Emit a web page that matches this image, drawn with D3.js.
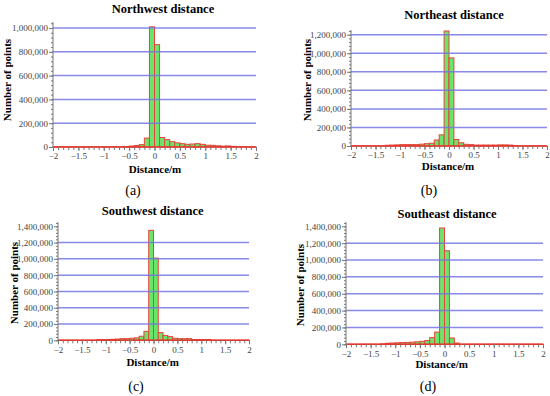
<!DOCTYPE html>
<html>
<head>
<meta charset="utf-8">
<script src="https://cdn.jsdelivr.net/npm/d3@7"></script>
<style>
  body { margin: 0; background: #fff; }
  svg { display: block; }
</style>
</head>
<body>
<div id="chart"></div>
<script>
// Histogram bins: 40 bins of 0.1 m from -2 to 2 (left edges)
var binStarts = d3.range(40).map(function(i) { return Math.round((-2 + i * 0.1) * 10) / 10; });
var binWidth = 0.1;
var xTicks = [-2, -1.5, -1, -0.5, 0, 0.5, 1, 1.5, 2];

// Counts per bin
var northwest = [1000, 1000, 1000, 1000, 1000, 1000, 1000, 1000, 1000, 1000,
  1000, 1000, 1000, 1000, 4000, 8000, 12000, 20000, 75000, 1010000,
  860000, 80000, 62000, 45000, 35000, 28000, 22000, 25000, 28000, 22000,
  15000, 14000, 10000, 7000, 9000, 5000, 2000, 1000, 1000, 1000];
var northeast = [1000, 1000, 1000, 1000, 1000, 1000, 1000, 8000, 10000, 12000,
  15000, 15000, 15000, 15000, 20000, 25000, 30000, 65000, 120000, 1240000,
  950000, 70000, 35000, 18000, 15000, 10000, 10000, 10000, 10000, 10000,
  12000, 12000, 10000, 5000, 2000, 1000, 1000, 1000, 1000, 1000];
var southwest = [1000, 1000, 1000, 1000, 1000, 1000, 1000, 1000, 8000, 8000,
  10000, 12000, 15000, 20000, 20000, 25000, 30000, 50000, 110000, 1350000,
  1010000, 95000, 60000, 45000, 25000, 20000, 20000, 20000, 10000, 10000,
  10000, 10000, 1000, 1000, 1000, 1000, 1000, 1000, 1000, 1000];
var southeast = [1000, 1000, 1000, 1000, 1000, 1000, 1000, 5000, 12000, 15000,
  18000, 20000, 22000, 25000, 30000, 35000, 45000, 80000, 145000, 1380000,
  1110000, 75000, 15000, 1000, 1000, 1000, 1000, 1000, 1000, 1000,
  1000, 1000, 1000, 1000, 1000, 1000, 1000, 1000, 1000, 1000];

var yTicksA = [0, 200000, 400000, 600000, 800000, 1000000];
var yTicksB = [0, 200000, 400000, 600000, 800000, 1000000, 1200000];
var yTicksC = [0, 200000, 400000, 600000, 800000, 1000000, 1200000, 1400000];

var titles = ["Northwest distance", "Northeast distance", "Southwest distance", "Southeast distance"];
var letters = ["(a)", "(b)", "(c)", "(d)"];

var serif = "'Liberation Serif', 'Times New Roman', 'DejaVu Serif', serif";

// Panel layout (pixel frames)
var panels = [
  { data: northwest, ticks: yTicksA, x0: 53, x1: 256, yZero: 147, yTop: 28,
    title: [163, 13], ylab: [11, 80], xlab: [155, 173], letter: [133, 195] },
  { data: northeast, ticks: yTicksB, x0: 351, x1: 547, yZero: 146, yTop: 34.7,
    title: [454, 19], ylab: [311, 80], xlab: [448, 170], letter: [429, 195] },
  { data: southwest, ticks: yTicksC, x0: 58, x1: 249, yZero: 340.3, yTop: 226.3,
    title: [152.7, 215], ylab: [18, 283], xlab: [152.7, 366], letter: [136, 391] },
  { data: southeast, ticks: yTicksC, x0: 346, x1: 543, yZero: 344.3, yTop: 226.3,
    title: [447, 218], ylab: [304, 285], xlab: [441.7, 367.5], letter: [428, 391] }
];

var svg = d3.select("#chart").append("svg")
  .attr("width", 550)
  .attr("height", 396)
  .attr("font-family", serif);

var fmt = d3.format(",");

panels.forEach(function(p, i) {
  var g = svg.append("g");
  var yMax = p.ticks[p.ticks.length - 1];
  var yStep = p.ticks[1] - p.ticks[0];

  var xScale = d3.scaleLinear().domain([-2, 2]).range([p.x0, p.x1]);
  var yScale = d3.scaleLinear().domain([0, yMax]).range([p.yZero, p.yTop]);

  // Bars
  g.append("g").selectAll("rect")
    .data(p.data)
    .enter().append("rect")
    .attr("x", function(d, j) { return xScale(binStarts[j]); })
    .attr("width", function(d, j) { return xScale(binStarts[j] + binWidth) - xScale(binStarts[j]); })
    .attr("y", function(d) { return yScale(d); })
    .attr("height", function(d) { return yScale(0) - yScale(d); })
    .attr("fill", "#6be46b")
    .attr("stroke", "#e8433a")
    .attr("stroke-width", 1);

  // Grid lines (drawn above the bars, as in the picture)
  g.append("g").selectAll("line")
    .data(p.ticks.filter(function(t) { return t > 0 && t < 1400000; }))
    .enter().append("line")
    .attr("x1", p.x0)
    .attr("x2", p.x1)
    .attr("y1", function(d) { return yScale(d); })
    .attr("y2", function(d) { return yScale(d); })
    .attr("stroke", "#7474e4")
    .attr("stroke-opacity", 0.85)
    .attr("stroke-width", 1.5);

  // Baseline
  g.append("line")
    .attr("x1", p.x0).attr("x2", p.x1)
    .attr("y1", p.yZero).attr("y2", p.yZero)
    .attr("stroke", "#e8332a").attr("stroke-width", 1.5);

  // Y axis with minor ticks
  var yAxisTop = yMax + yStep / 4;
  var yAxis = d3.axisLeft(yScale).tickValues(p.ticks).tickFormat(fmt).tickSize(4).tickSizeOuter(0);
  var yMinor = d3.axisLeft(yScale)
    .tickValues(d3.range(0, yAxisTop, yStep / 5))
    .tickFormat("").tickSize(2).tickSizeOuter(0);
  var ya = g.append("g").attr("transform", "translate(" + p.x0 + ",0)");
  ya.call(yAxis);
  var ym = g.append("g").attr("transform", "translate(" + p.x0 + ",0)");
  ym.call(yMinor);
  ya.select(".domain").remove();
  ym.select(".domain").remove();
  g.append("line")
    .attr("x1", p.x0).attr("x2", p.x0)
    .attr("y1", p.yZero).attr("y2", yScale(yAxisTop))
    .attr("stroke", "#777");

  // X axis with minor ticks
  var xAxis = d3.axisBottom(xScale).tickValues(xTicks).tickFormat(d3.format("")).tickSize(4).tickSizeOuter(0);
  var xMinor = d3.axisBottom(xScale).tickValues(d3.range(41).map(function(k) { return -2 + k * 0.1; }))
    .tickFormat("").tickSize(3).tickSizeOuter(0);
  var xa = g.append("g").attr("transform", "translate(0," + p.yZero + ")").call(xAxis);
  var xm = g.append("g").attr("transform", "translate(0," + p.yZero + ")").call(xMinor);
  xa.select(".domain").remove();
  xm.select(".domain").remove();

  [ya, ym, xa, xm].forEach(function(a) {
    a.attr("font-family", serif).attr("font-size", 9);
    a.selectAll(".tick line").attr("stroke", "#777");
    a.selectAll(".tick text").attr("fill", "#444");
  });
  ya.selectAll(".tick text").attr("x", -5);
  xa.selectAll(".tick text").attr("y", 6);

  // Titles and labels
  g.append("text")
    .attr("x", p.title[0]).attr("y", p.title[1])
    .attr("text-anchor", "middle")
    .attr("font-family", serif)
    .attr("font-size", 12.5).attr("font-weight", "bold")
    .text(titles[i]);

  g.append("text")
    .attr("transform", "translate(" + p.ylab[0] + "," + p.ylab[1] + ") rotate(-90)")
    .attr("text-anchor", "middle")
    .attr("font-family", serif)
    .attr("font-size", 11).attr("font-weight", "bold")
    .text("Number of points");

  g.append("text")
    .attr("x", p.xlab[0]).attr("y", p.xlab[1])
    .attr("text-anchor", "middle")
    .attr("font-family", serif)
    .attr("font-size", 11).attr("font-weight", "bold")
    .text("Distance/m");

  g.append("text")
    .attr("x", p.letter[0]).attr("y", p.letter[1])
    .attr("text-anchor", "middle")
    .attr("font-family", serif)
    .attr("font-size", 14)
    .text(letters[i]);
});
</script>
</body>
</html>
